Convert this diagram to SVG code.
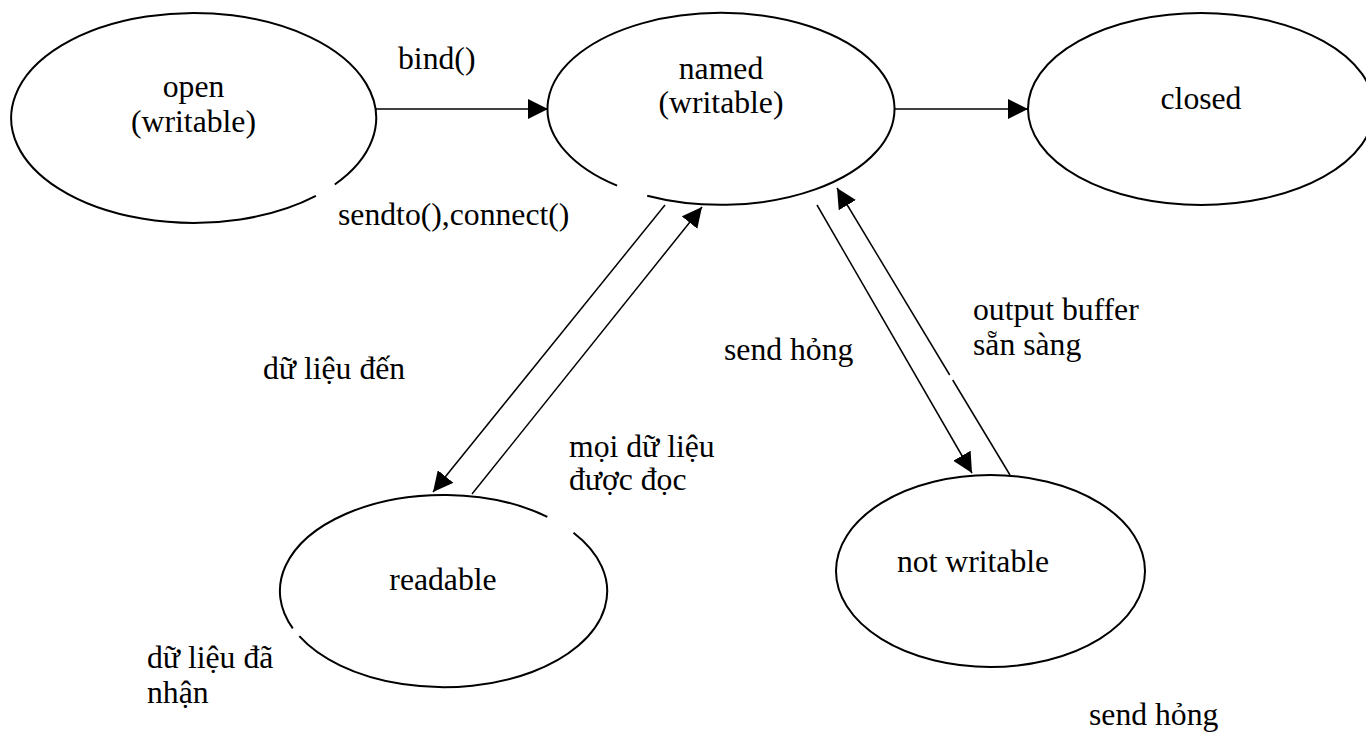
<svg xmlns="http://www.w3.org/2000/svg" width="1366" height="733" viewBox="0 0 1366 733">
  <style>
    .state { fill: none; stroke: #000; stroke-width: 2; }
    .edge { fill: none; stroke: #000; stroke-width: 1.5; }
    text { font-family: "Liberation Serif", "Times New Roman", serif; font-size: 31.7px; fill: #000; }
    .mid { text-anchor: middle; }
  </style>
  <defs>
    <marker id="ah" markerWidth="20" markerHeight="20" refX="20" refY="10" orient="auto" markerUnits="userSpaceOnUse">
      <path d="M0,0 L20,10 L0,20 z" fill="#000"/>
    </marker>
  </defs>
  <rect width="1366" height="733" fill="#fff"/>

  <!-- states -->
  <g id="open">
    <path class="state" d="M334.8,184.5 A182.5,105 0 1 0 315.9,195.9"/>
    <text class="mid" x="193.5" y="97">open</text>
    <text class="mid" x="193.5" y="131.5">(writable)</text>
  </g>
  <g id="named">
    <path class="state" d="M617.1,185.7 A173.5,96 0 1 1 647.2,195.7"/>
    <text class="mid" x="721" y="78.5">named</text>
    <text class="mid" x="721" y="113">(writable)</text>
  </g>
  <g id="closed">
    <ellipse class="state" cx="1201" cy="109" rx="173" ry="96"/>
    <text class="mid" x="1201" y="109">closed</text>
  </g>
  <g id="readable">
    <path class="state" d="M573.5,532.8 A163.5,96 0 1 1 299.3,636.2"/>
    <path class="state" d="M292.8,628.3 A163.5,96 0 0 1 547.3,516.8"/>
    <text class="mid" x="443" y="590">readable</text>
  </g>
  <g id="not-writable">
    <ellipse class="state" cx="990.5" cy="571" rx="154.5" ry="96"/>
    <text class="mid" x="973" y="572">not writable</text>
  </g>

  <!-- transitions -->
  <g id="connectors">
    <path class="edge" d="M376,109 L548,109" marker-end="url(#ah)"/>
    <path class="edge" d="M895,109 L1028,109" marker-end="url(#ah)"/>
    <path class="edge" d="M665,205 L433,492" marker-end="url(#ah)"/>
    <path class="edge" d="M472,494 L702,207" marker-end="url(#ah)"/>
    <path class="edge" d="M817,205 L972,473" marker-end="url(#ah)"/>
    <path class="edge" d="M1010,475 L952.7,380"/>
    <path class="edge" d="M949.7,375 L837,188" marker-end="url(#ah)"/>
  </g>

  <!-- transition labels -->
  <g id="labels">
    <text x="398" y="69">bind()</text>
    <text x="338" y="225">sendto(),connect()</text>
    <text x="263" y="379">dữ liệu đến</text>
    <text x="569" y="457">mọi dữ liệu</text>
    <text x="569" y="490">được đọc</text>
    <text x="724" y="360">send hỏng</text>
    <text x="973" y="320">output buffer</text>
    <text x="973" y="355">sẵn sàng</text>
    <text x="147" y="668">dữ liệu đã</text>
    <text x="147" y="703">nhận</text>
    <text x="1089" y="725">send hỏng</text>
  </g>
</svg>
